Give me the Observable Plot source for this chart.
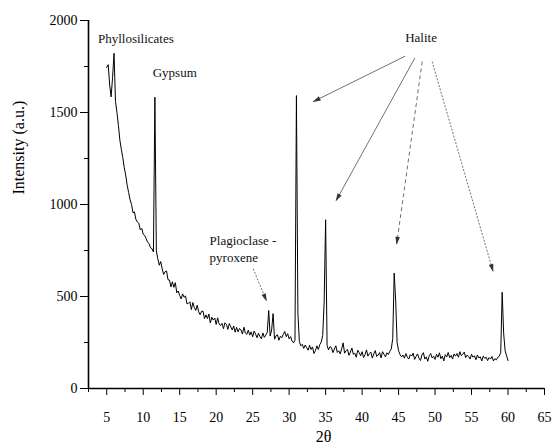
<!DOCTYPE html>
<html><head><meta charset="utf-8">
<script src="https://cdn.jsdelivr.net/npm/d3@7"></script>
<script src="https://cdn.jsdelivr.net/npm/@observablehq/plot@0.6"></script>
<style>html,body{margin:0;padding:0;background:#fff} svg{display:block}</style>
</head><body><div id="chart"></div>
<script>
// XRD pattern sampled on the instrument grid (2θ from 5.0°, every 0.2°)
const angleStart = 5.0;
const angleStep = 0.2;
const intensity = [
  1745,1760,1650,1585,1690,1822,1560,1500,1430,1350,
  1300,1255,1200,1160,1105,1065,1025,1000,955,960,
  918,905,898,862,870,838,832,815,795,788,
  765,760,742,1583,748,705,670,690,650,620,
  635,638,591,589,552,580,550,575,520,530,
  505,487,514,496,503,460,463,471,429,467,
  440,424,453,417,401,420,420,380,400,380,
  405,356,387,372,383,348,384,351,342,354,
  325,357,349,321,353,335,318,340,306,332,
  308,326,318,296,333,301,294,317,290,308,
  281,312,296,276,300,282,270,302,278,290,
  305,424,285,318,407,268,286,292,262,284,
  276,295,310,282,298,270,282,258,248,262,
  1592,410,255,232,240,218,236,222,208,235,
  212,226,190,205,232,212,238,252,288,470,
  917,234,210,228,222,195,214,232,196,205,
  188,215,248,192,206,212,180,198,220,186,
  192,170,208,196,178,200,168,184,210,176,
  190,198,165,188,206,174,182,195,166,200,
  186,172,194,185,202,215,272,627,480,250,
  205,185,172,182,165,190,170,160,184,176,
  192,158,174,188,165,152,182,195,160,172,
  148,178,190,166,175,158,186,170,194,162,
  176,150,184,172,196,168,180,160,188,176,
  190,170,200,178,186,198,168,182,174,160,
  186,170,178,156,182,166,172,150,176,164,
  170,152,168,160,174,150,162,156,170,175,
  195,523,300,206,178,152
];

const xDomain = [2.5, 65];
const yDomain = [0, 2000];
const xMajorTicks = [5,10,15,20,25,30,35,40,45,50,55,60,65];
const xMinorTicks = [2.5,7.5,12.5,17.5,22.5,27.5,32.5,37.5,42.5,47.5,52.5,57.5,62.5];
const yMajorTicks = [0,500,1000,1500,2000];
const yMinorTicks = [250,750,1250,1750];

const xTitle = "2θ";
const yTitle = "Intensity (a.u.)";

// phase labels (anchored at their left edge, vertical centre)
const phaseLabels = [
  {text: "Phyllosilicates", x: 3.8, y: 1902},
  {text: "Gypsum", x: 11.3, y: 1717},
  {text: "Halite", x: 45.9, y: 1907},
  {text: "Plagioclase -", x: 19.1, y: 804},
  {text: "pyroxene", x: 19.1, y: 712}
];

// pointer arrows
const solidArrows = [
  {x1: 45.9, y1: 1806, x2: 33.35, y2: 1560},
  {x1: 47.24, y1: 1797, x2: 36.45, y2: 1022}
];
const dashedArrows = [
  {x1: 48.24, y1: 1777, x2: 44.74, y2: 786}
];
const dottedArrows = [
  {x1: 49.6, y1: 1777, x2: 57.94, y2: 638},
  {x1: 25.07, y1: 651, x2: 26.88, y2: 478}
];

const pattern = intensity.map((v, i) => ({angle: +(angleStart + i * angleStep).toFixed(1), intensity: v}));

const arrowStyle = {x1: "x1", y1: "y1", x2: "x2", y2: "y2", stroke: "#333", strokeWidth: 0.7, markerEnd: "arrow"};

const svg = Plot.plot({
  width: 553,
  height: 447,
  marginLeft: 88,
  marginRight: 9,
  marginTop: 20,
  marginBottom: 59,
  style: {fontFamily: "'Liberation Serif', 'Times New Roman', serif", fontSize: "14px", color: "black", background: "white"},
  x: {domain: xDomain},
  y: {domain: yDomain},
  marks: [
    Plot.axisX({ticks: xMajorTicks, tickSize: 7, tickPadding: 17, fontSize: 14, label: null, tickFormat: d => String(d)}),
    Plot.axisX({ticks: xMinorTicks, tickSize: 4, label: null, tickFormat: () => ""}),
    Plot.axisY({ticks: yMajorTicks, tickSize: 8, tickPadding: 3, fontSize: 14, label: null, tickFormat: d => String(d)}),
    Plot.axisY({ticks: yMinorTicks, tickSize: 4, label: null, tickFormat: () => ""}),
    Plot.ruleX([xDomain[0]], {stroke: "black", strokeWidth: 1.6}),
    Plot.ruleY([yDomain[0]], {stroke: "black", strokeWidth: 1.6}),
    Plot.line(pattern, {x: "angle", y: "intensity", stroke: "black", strokeWidth: 1}),
    Plot.link(solidArrows, arrowStyle),
    Plot.link(dashedArrows, {...arrowStyle, strokeDasharray: "4,3"}),
    Plot.link(dottedArrows, {...arrowStyle, strokeDasharray: "2,1.5"}),
    Plot.text(phaseLabels, {x: "x", y: "y", text: "text", textAnchor: "start", fontSize: 13, fill: "#111"}),
    Plot.text([yTitle], {text: d => d, frameAnchor: "left", rotate: -90, dx: -70, dy: -10, fontSize: 16}),
    Plot.text([xTitle], {text: d => d, frameAnchor: "bottom", dy: 53, dx: 7, fontSize: 16})
  ]
});

// filled triangular arrowheads
svg.querySelectorAll("marker").forEach(m => {
  const c = m.getAttribute("stroke") || "#333";
  m.setAttribute("viewBox", "-8 -4 10 8");
  m.setAttribute("markerUnits", "userSpaceOnUse");
  m.setAttribute("markerWidth", "10");
  m.setAttribute("markerHeight", "8");
  m.setAttribute("fill", c);
  m.setAttribute("stroke", "none");
  const p = m.querySelector("path");
  if (p) p.setAttribute("d", "M-7,-2.3L1,0L-7,2.3Z");
});

document.getElementById("chart").appendChild(svg);
</script>
</body></html>
